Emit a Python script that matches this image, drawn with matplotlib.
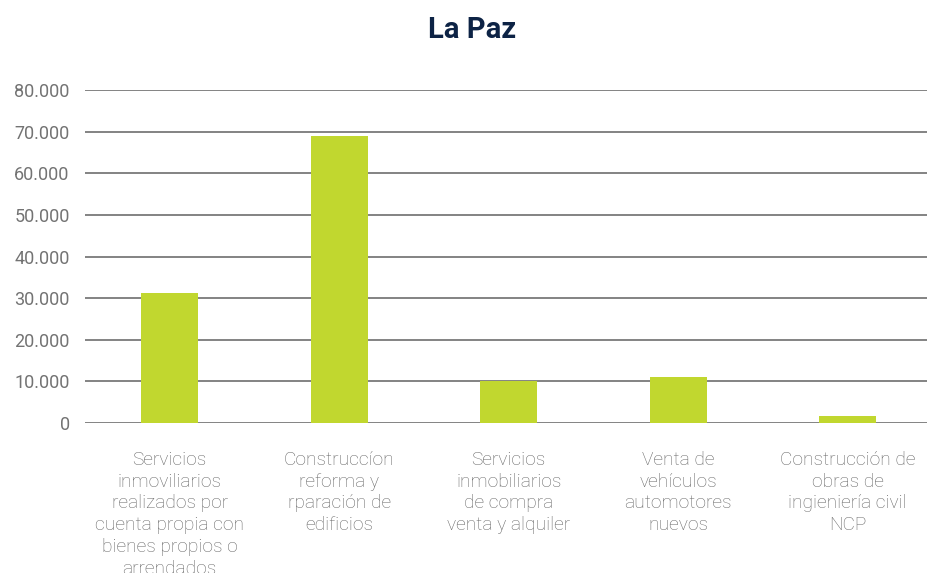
import numpy as np
import matplotlib.pyplot as plt
from matplotlib.ticker import FuncFormatter

plt.rcParams['font.family'] = ['Roboto', 'DejaVu Sans']

categorias = ['Servicios\ninmoviliarios\nrealizados por\ncuenta propia con\nbienes propios o\narrendados',
              'Construccíon\nreforma y\nrparación de\nedificios',
              'Servicios\ninmobiliarios\nde compra\nventa y alquiler',
              'Venta de\nvehículos\nautomotores\nnuevos',
              'Construcción de\nobras de\ningieniería civil\nNCP']
valores = [31200, 68900, 10050, 11100, 1700]
yticks = np.arange(0, 80001, 10000)

fig = plt.figure(figsize=(9.28, 5.73), dpi=100)
ax = fig.add_axes([85/928, 150/573, 1 - 85/928, 333/573])

x = np.arange(len(categorias))
ax.bar(x, valores, width=0.336, color='#c1d72f', zorder=3)

ax.set_ylim(0, 80000)
ax.set_xlim(-0.5, -0.5 + (928 - 85) / 169.5)
ax.set_yticks(yticks)
ax.yaxis.set_major_formatter(FuncFormatter(lambda v, p: f'{int(v):,}'.replace(',', '.')))
ax.grid(axis='y', color='#7a7a7a', linewidth=1.3, zorder=0)
for s in ax.spines.values():
    s.set_visible(False)
ax.tick_params(axis='y', length=0, pad=11, labelsize=13, labelcolor='#737373')
ax.tick_params(axis='x', length=0, pad=20, labelsize=13.8, labelcolor='#666666')
ax.set_xticks(x)
ax.set_xticklabels(categorias, linespacing=1.27, va='top', fontweight='light')

fig.text(472/928, 1 - 30/573, 'La Paz', ha='center', va='center',
         fontsize=21, fontweight='bold', color='#0d2345')

fig.savefig('out.png', dpi=100)
